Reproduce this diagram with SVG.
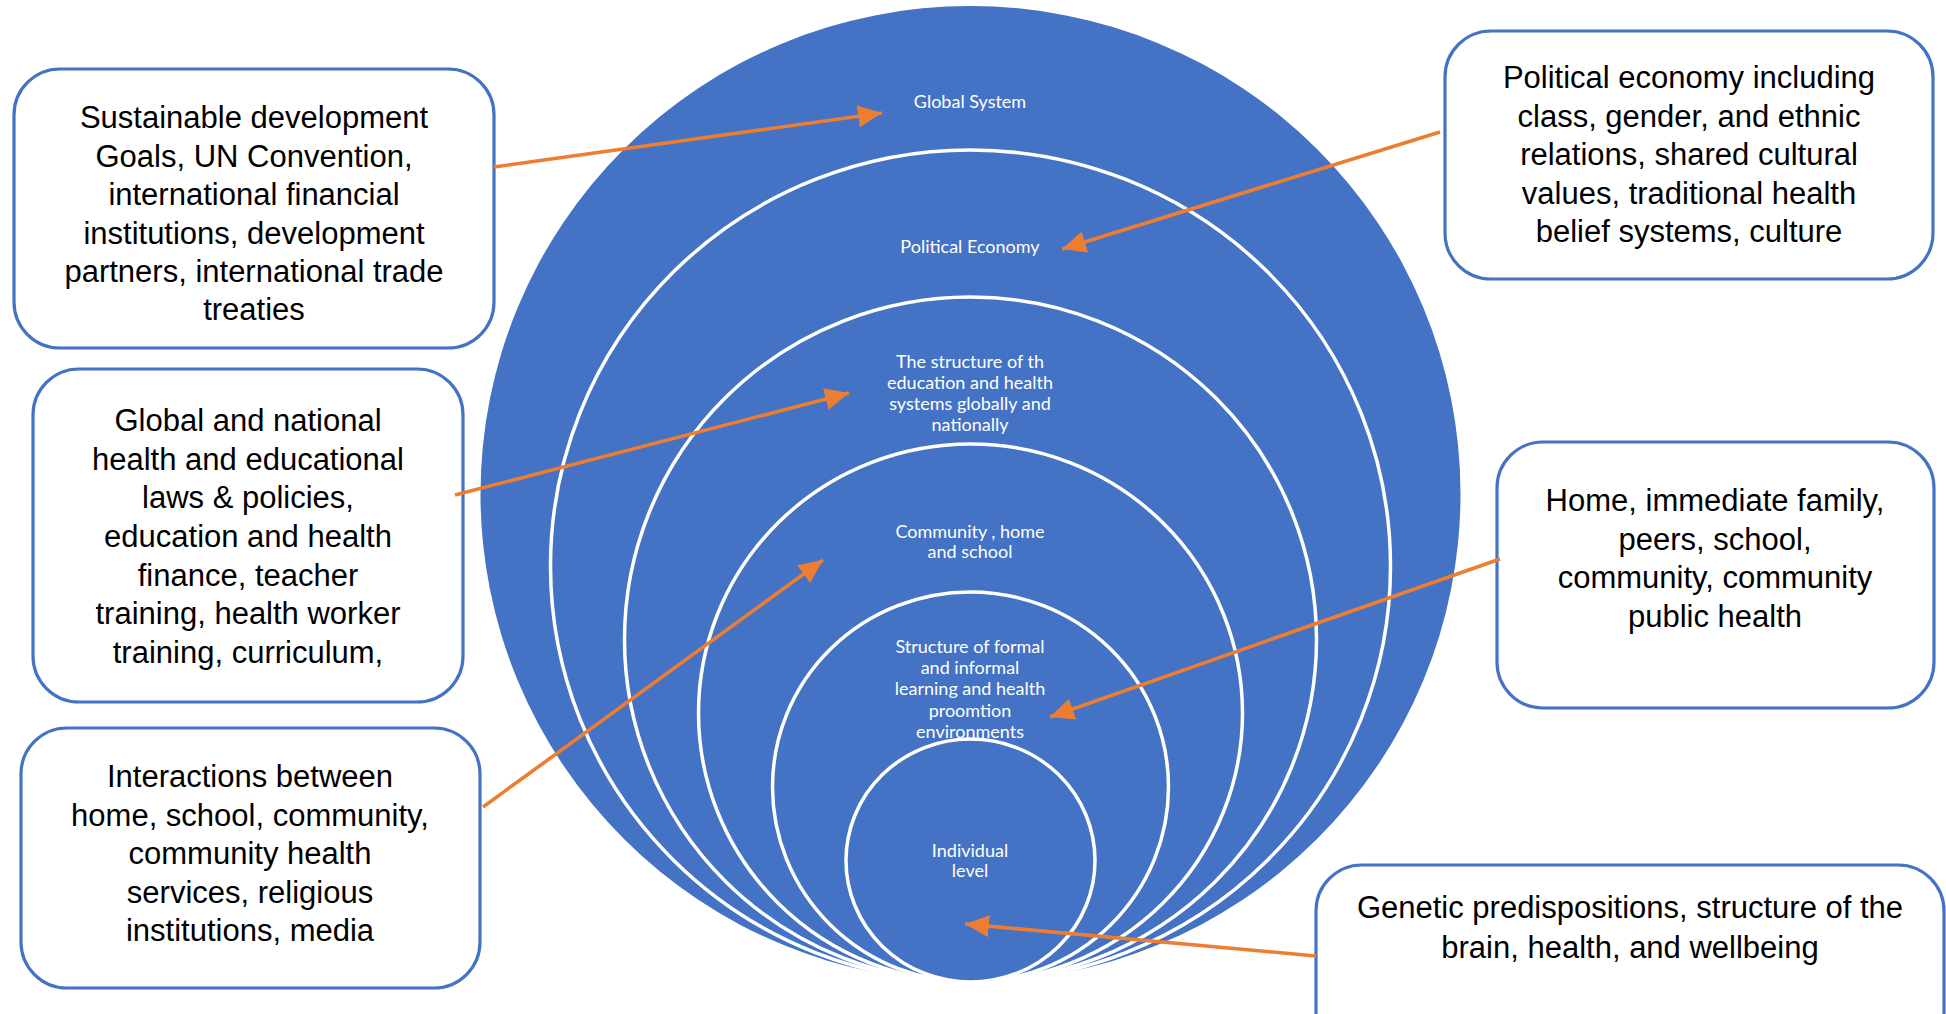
<svg xmlns="http://www.w3.org/2000/svg" width="1946" height="1014" viewBox="0 0 1946 1014">
<style>
.lvl{fill:#4472C4;stroke:#FFFFFF;stroke-width:3.5}
.outer{fill:#4472C4;stroke:none}
.lt{font-family:Lato,"Open Sans",sans-serif;font-size:18px;fill:#FFFFFF;text-anchor:middle}
.box{fill:#FFFFFF;stroke:#4472C4;stroke-width:3.2}
.bt{font-family:"Liberation Sans",Arial,sans-serif;font-size:31px;fill:#000000;text-anchor:middle}
.con{fill:none;stroke:#ED7D31;stroke-width:3.6}
</style>
<defs>
<marker id="ah" markerUnits="userSpaceOnUse" markerWidth="26" markerHeight="24" refX="24" refY="11" orient="auto">
<path d="M0,0 L24,11 L0,22 Z" fill="#ED7D31"/>
</marker>
</defs>
<rect width="1946" height="1014" fill="#FFFFFF"/>
<g id="levels">
<g id="level-global"><ellipse class="outer" cx="970.5" cy="494" rx="490" ry="488"/><text class="lt" x="970" y="108">Global System</text></g>
<g id="level-political"><ellipse class="lvl" cx="970.5" cy="566" rx="420" ry="416"/><text class="lt" x="970" y="253">Political Economy</text></g>
<g id="level-systems"><ellipse class="lvl" cx="970.5" cy="639.5" rx="346" ry="342.5"/><text class="lt" x="970"><tspan x="970" y="368">The structure of th</tspan><tspan x="970" y="389">education and health</tspan><tspan x="970" y="410">systems globally and</tspan><tspan x="970" y="431">nationally</tspan></text></g>
<g id="level-community"><ellipse class="lvl" cx="970.5" cy="713" rx="272" ry="269"/><text class="lt" x="970"><tspan x="970" y="538">Community , home</tspan><tspan x="970" y="558">and school</tspan></text></g>
<g id="level-learning"><ellipse class="lvl" cx="970.5" cy="787" rx="198" ry="195"/><text class="lt" x="970"><tspan x="970" y="653">Structure of formal</tspan><tspan x="970" y="674">and informal</tspan><tspan x="970" y="695">learning and health</tspan><tspan x="970" y="717">proomtion</tspan><tspan x="970" y="738">environments</tspan></text></g>
<g id="level-individual"><ellipse class="lvl" cx="970.5" cy="860.5" rx="124.5" ry="121.5"/><text class="lt" x="970"><tspan x="970" y="857">Individual</tspan><tspan x="970" y="877">level</tspan></text></g>
</g>
<g id="box-global">
<rect class="box" x="14" y="69" width="480" height="279" rx="46"/>
<text class="bt"><tspan x="254" y="128">Sustainable development</tspan><tspan x="254" y="166.5">Goals, UN Convention,</tspan><tspan x="254" y="205">international financial</tspan><tspan x="254" y="243.5">institutions, development</tspan><tspan x="254" y="282">partners, international trade</tspan><tspan x="254" y="320">treaties</tspan></text>
</g>
<g id="box-laws">
<rect class="box" x="33" y="369" width="430" height="333" rx="46"/>
<text class="bt"><tspan x="248" y="431">Global and national</tspan><tspan x="248" y="469.5">health and educational</tspan><tspan x="248" y="508">laws &amp; policies,</tspan><tspan x="248" y="547">education and health</tspan><tspan x="248" y="585.5">finance, teacher</tspan><tspan x="248" y="624">training, health worker</tspan><tspan x="248" y="662.5">training, curriculum,</tspan></text>
</g>
<g id="box-interactions">
<rect class="box" x="21" y="728" width="459" height="260" rx="46"/>
<text class="bt"><tspan x="250" y="787">Interactions between</tspan><tspan x="250" y="825.5">home, school, community,</tspan><tspan x="250" y="864">community health</tspan><tspan x="250" y="902.5">services,  religious</tspan><tspan x="250" y="941">institutions, media</tspan></text>
</g>
<g id="box-political">
<rect class="box" x="1445" y="31" width="488" height="248" rx="46"/>
<text class="bt"><tspan x="1689" y="88">Political economy including</tspan><tspan x="1689" y="126.5">class, gender, and ethnic</tspan><tspan x="1689" y="165">relations, shared cultural</tspan><tspan x="1689" y="203.5">values, traditional health</tspan><tspan x="1689" y="242">belief systems, culture</tspan></text>
</g>
<g id="box-home">
<rect class="box" x="1497" y="442" width="437" height="266" rx="46"/>
<text class="bt"><tspan x="1715" y="511">Home, immediate family,</tspan><tspan x="1715" y="549.5">peers, school,</tspan><tspan x="1715" y="588">community, community</tspan><tspan x="1715" y="626.5">public health</tspan></text>
</g>
<g id="box-genetic">
<rect class="box" x="1316" y="865" width="628" height="200" rx="46"/>
<text class="bt"><tspan x="1630" y="918">Genetic predispositions, structure of the</tspan><tspan x="1630" y="958">brain, health, and wellbeing</tspan></text>
</g>
<g id="connectors">
<line class="con" x1="494" y1="167" x2="882" y2="113" marker-end="url(#ah)"/>
<line class="con" x1="1440" y1="132" x2="1062" y2="249" marker-end="url(#ah)"/>
<line class="con" x1="455" y1="495" x2="849" y2="393" marker-end="url(#ah)"/>
<line class="con" x1="483" y1="807" x2="823" y2="560" marker-end="url(#ah)"/>
<line class="con" x1="1500" y1="559" x2="1050" y2="717" marker-end="url(#ah)"/>
<line class="con" x1="1316" y1="956" x2="965" y2="924" marker-end="url(#ah)"/>
</g>
</svg>
